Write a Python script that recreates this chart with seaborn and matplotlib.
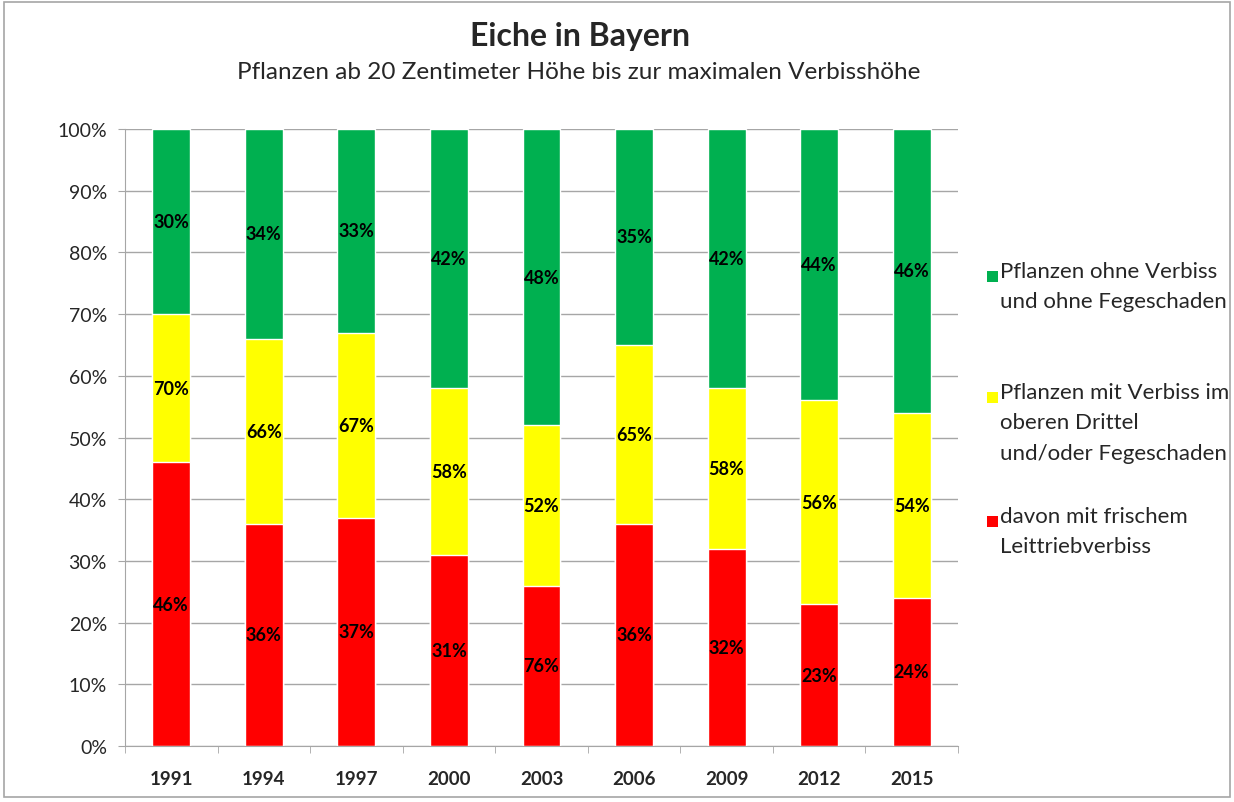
import matplotlib
matplotlib.use('Agg')
import matplotlib.pyplot as plt
import seaborn as sns
import pandas as pd
from matplotlib.patches import Rectangle
from matplotlib.ticker import FixedLocator, PercentFormatter

# Daten
jahre = ['1991', '1994', '1997', '2000', '2003', '2006', '2009', '2012', '2015']
rot = [46, 36, 37, 31, 26, 36, 32, 23, 24]          # davon mit frischem Leittriebverbiss
gelb_gesamt = [70, 66, 67, 58, 52, 65, 58, 56, 54]  # mit Verbiss (Summe)
gruen = [30, 34, 33, 42, 48, 35, 42, 44, 46]        # ohne Verbiss
rot_beschriftung = ['46%', '36%', '37%', '31%', '76%', '36%', '32%', '23%', '24%']

serien = ['Pflanzen ohne Verbiss\nund ohne Fegeschaden',
          'Pflanzen mit Verbiss im\noberen Drittel\nund/oder Fegeschaden',
          'davon mit frischem\nLeittriebverbiss']
farben = ['#00B050', '#FFFF00', '#FF0000']

df = pd.DataFrame({'Jahr': jahre, 'rot': rot, 'gelb': gelb_gesamt, 'gruen': gruen})
df['oben'] = df['gelb'] + df['gruen']

sns.set_style('white')
plt.rcParams['font.family'] = ['Lato', 'DejaVu Sans']

fig = plt.figure(figsize=(12.34, 8.03), dpi=100)
ax = fig.add_axes([0.1013, 0.0697, 0.675, 0.7684])

# gestapelte Balken: von oben nach unten zeichnen
sns.barplot(data=df, x='Jahr', y='oben', color=farben[0], width=0.41, saturation=1, ax=ax, zorder=2)
sns.barplot(data=df, x='Jahr', y='gelb', color=farben[1], width=0.41, saturation=1, ax=ax, zorder=2)
sns.barplot(data=df, x='Jahr', y='rot', color=farben[2], width=0.41, saturation=1, ax=ax, zorder=2)

# Datenbeschriftungen
for i in range(len(jahre)):
    ax.text(i, rot[i] / 2, rot_beschriftung[i], ha='center', va='center',
            fontsize=13, fontweight='bold', color='black', zorder=3)
    ax.text(i, (rot[i] + gelb_gesamt[i]) / 2, f'{gelb_gesamt[i]}%', ha='center', va='center',
            fontsize=13, fontweight='bold', color='black', zorder=3)
    ax.text(i, (gelb_gesamt[i] + 100) / 2, f'{gruen[i]}%', ha='center', va='center',
            fontsize=13, fontweight='bold', color='black', zorder=3)

ax.set_ylim(0, 100)
ax.set_xlim(-0.5, len(jahre) - 0.5)
ax.set_yticks(range(0, 101, 10))
ax.yaxis.set_major_formatter(PercentFormatter(decimals=0))
ax.yaxis.grid(True, color='#A6A6A6', linewidth=1, zorder=0)
ax.set_axisbelow(True)
ax.set_xlabel('')
ax.set_ylabel('')

for s in ['top', 'right']:
    ax.spines[s].set_visible(False)
ax.spines['left'].set_color('#A6A6A6')
ax.spines['bottom'].set_color('#A6A6A6')

ax.tick_params(axis='y', which='major', left=True, length=5, color='#A6A6A6',
               labelsize=14, labelcolor='#262626', pad=8)
ax.tick_params(axis='x', which='major', bottom=False, labelsize=13.5, pad=14)
ax.xaxis.set_minor_locator(FixedLocator([i - 0.5 for i in range(len(jahre) + 1)]))
ax.tick_params(axis='x', which='minor', bottom=True, length=5, color='#A6A6A6')
for lbl in ax.get_xticklabels():
    lbl.set_fontweight('bold')

# Titel
fig.text(0.470, 0.955, 'Eiche in Bayern', ha='center', va='center', fontsize=23, fontweight='bold')
fig.text(0.469, 0.910, 'Pflanzen ab 20 Zentimeter Höhe bis zur maximalen Verbisshöhe',
         ha='center', va='center', fontsize=17.5)

# Legende
leg_y = [277, 398, 522]
for name, farbe, y in zip(serien, farben, leg_y):
    fig.patches.append(Rectangle((987 / 1234, 1 - (y + 6) / 803), 11 / 1234, 11 / 803,
                                 transform=fig.transFigure, facecolor=farbe, edgecolor='none'))
    fig.text(1000 / 1234, 1 - (y - 15) / 803, name, ha='left', va='top',
             fontsize=16, color='#262626', linespacing=1.65)

# Rahmen
fig.patches.append(Rectangle((0.003, 0.006), 0.994, 0.99, transform=fig.transFigure,
                             facecolor='none', edgecolor='#A6A6A6', linewidth=1.2))

fig.savefig('out.png', dpi=100)
